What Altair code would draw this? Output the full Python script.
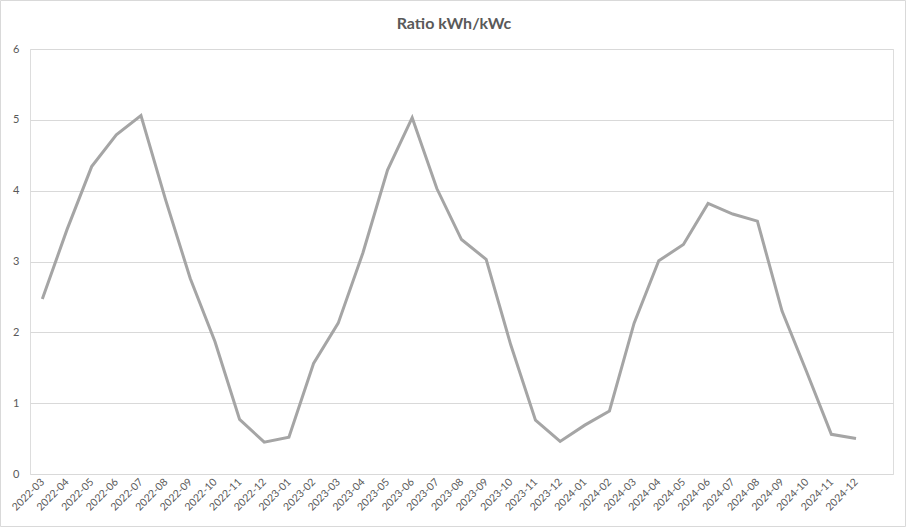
import altair as alt
import pandas as pd

months = [
    "2022-03", "2022-04", "2022-05", "2022-06", "2022-07", "2022-08", "2022-09",
    "2022-10", "2022-11", "2022-12", "2023-01", "2023-02", "2023-03", "2023-04",
    "2023-05", "2023-06", "2023-07", "2023-08", "2023-09", "2023-10", "2023-11",
    "2023-12", "2024-01", "2024-02", "2024-03", "2024-04", "2024-05", "2024-06",
    "2024-07", "2024-08", "2024-09", "2024-10", "2024-11", "2024-12",
]
ratio = [
    2.47, 3.45, 4.34, 4.79, 5.06, 3.87, 2.76, 1.87, 0.77, 0.45, 0.52,
    1.56, 2.13, 3.12, 4.29, 5.03, 4.03, 3.31, 3.03, 1.82, 0.76, 0.46,
    0.69, 0.89, 2.13, 3.01, 3.24, 3.82, 3.67, 3.57, 2.30, 1.44, 0.56, 0.50,
]
y_ticks = [0, 1, 2, 3, 4, 5, 6]
title_text = ["Ratio kWh/kWc"]
# Excel keeps one empty slot after the last month
domain = months + ["_"]

df = pd.DataFrame({"month": months, "ratio": ratio})

FONT = "Lato"
GREY_TXT = "#595959"
GRID = "#d9d9d9"

base = alt.Chart(df)

line = base.mark_line(color="#a5a5a5", strokeWidth=3, strokeJoin="miter").encode(
    x=alt.X(
        "month:O",
        sort=domain,
        scale=alt.Scale(type="point", domain=domain, padding=0.5),
        axis=alt.Axis(
            title=None,
            labelAngle=-45,
            labelAlign="right",
            labelBaseline="middle",
            labelPadding=6,
            labelFontSize=10.5,
            labelColor=GREY_TXT,
            labelFont=FONT,
            labelExpr="datum.value == '_' ? '' : datum.value",
            ticks=False,
            domain=False,
            grid=False,
            labelOverlap=False,
        ),
    ),
    y=alt.Y(
        "ratio:Q",
        scale=alt.Scale(domain=[0, 6], nice=False),
        axis=alt.Axis(
            title=None,
            values=y_ticks,
            ticks=False,
            domain=False,
            grid=True,
            gridColor=GRID,
            gridWidth=1,
            labelPadding=11,
            labelFontSize=11,
            labelColor=GREY_TXT,
            labelFont=FONT,
        ),
    ),
)

border = alt.Chart(pd.DataFrame({"k": [0]})).mark_rect(
    fill=None, stroke=GRID, strokeWidth=1, clip=False
).encode(
    x=alt.value(-29.5), x2=alt.value(875.5), y=alt.value(-48.5), y2=alt.value(477.5)
)

title = alt.Chart(pd.DataFrame({"t": title_text})).mark_text(
    font=FONT, fontSize=16, fontWeight="bold", color=GREY_TXT,
    align="center", baseline="middle", clip=False,
).encode(text="t:N", x=alt.value(424), y=alt.value(-25))

chart = (
    alt.layer(border, line, title)
    .properties(
        width=863,
        height=425,
        autosize=alt.AutoSizeParams(type="none"),
        padding={"left": 30, "top": 49, "right": 15, "bottom": 56},
    )
    .configure_view(stroke=None)
    .configure(background="white")
)

chart.save("out.html", embed_options={"renderer": "svg", "actions": False})
